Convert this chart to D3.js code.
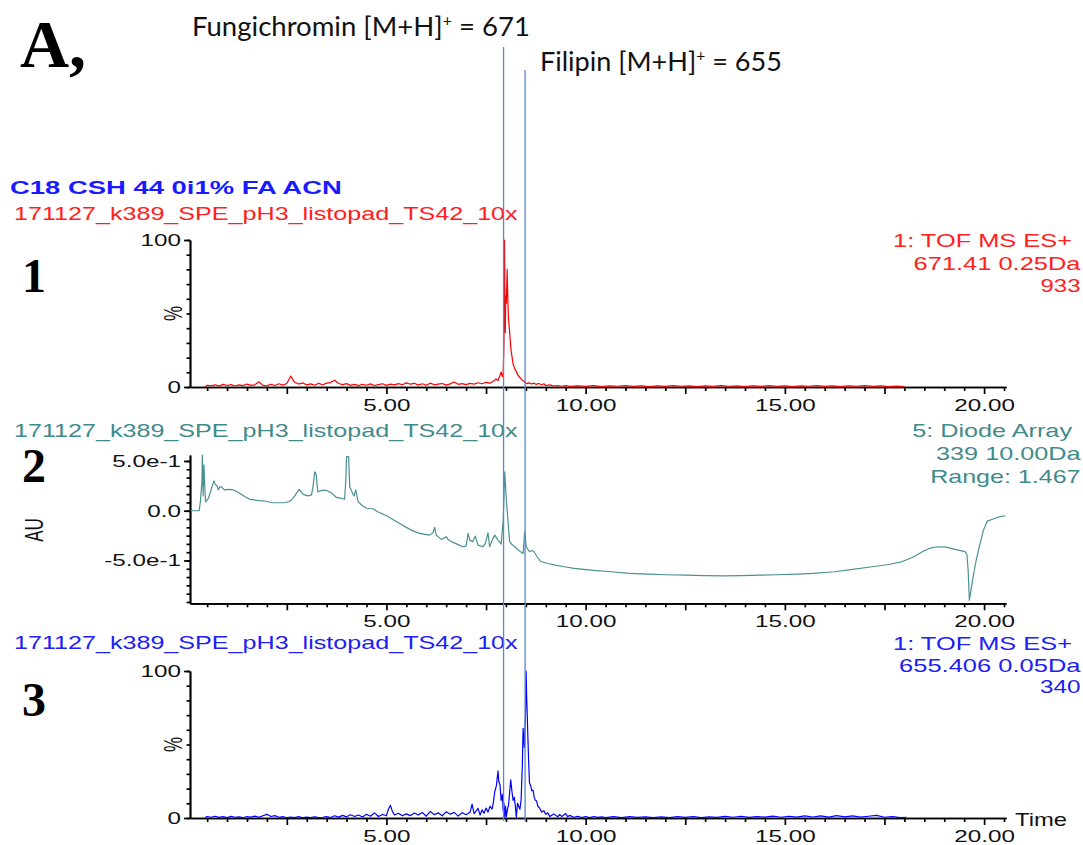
<!DOCTYPE html>
<html><head><meta charset="utf-8">
<script src="https://cdn.jsdelivr.net/npm/d3@7"></script>
<style>html,body{margin:0;padding:0;background:#fff;} svg{display:block;}</style>
</head><body><svg id="chart" width="1083" height="845"></svg>
<script>
// ---------------- DATA ----------------
const runName = "171127_k389_SPE_pH3_listopad_TS42_10x";
const methodName = "C18 CSH 44 0i1% FA ACN";
const panel1Info = ["1: TOF MS ES+", "671.41 0.25Da", "933"];
const panel2Info = ["5: Diode Array", "339 10.00Da", "Range: 1.467"];
const panel3Info = ["1: TOF MS ES+", "655.406 0.05Da", "340"];
const panelNumbers = ["1", "2", "3"];
const annotFungi = {name: "Fungichromin [M+H]", sup: "+", rest: " = 671"};
const annotFilipin = {name: "Filipin [M+H]", sup: "+", rest: " = 655"};
const markerTimes = [7.94, 8.48];           // Fungichromin, Filipin retention (min)
const timeTickLabels = [5, 10, 15, 20];
const pctTickLabels = [0, 100];
const auTicks = [-0.5, 0, 0.5];
const auTickLabels = ["-5.0e-1", "0.0", "5.0e-1"];

// Trace 1: TOF MS ES+ 671.41 (% of 933)
const fungiTrace = [
[0.45,0],[0.5,1.2],[0.6,0.8],[0.7,1.5],[0.8,0.6],[0.9,1.8],[1.0,1.0],[1.1,1.6],[1.2,0.7],[1.3,1.4],
[1.4,0.9],[1.5,2.0],[1.6,1.1],[1.7,1.5],[1.8,3.5],[1.9,1.2],[2.0,0.8],[2.1,1.9],[2.2,1.0],[2.3,2.2],
[2.4,1.3],[2.5,2.4],[2.6,7.5],[2.65,5.0],[2.7,3.2],[2.8,2.0],[2.9,2.8],[3.0,1.4],[3.1,2.1],[3.2,1.2],
[3.3,2.5],[3.4,1.5],[3.5,2.6],[3.6,3.0],[3.7,4.6],[3.8,2.4],[3.9,1.6],[4.0,2.3],[4.1,1.1],[4.2,1.8],
[4.3,0.9],[4.4,1.9],[4.5,1.2],[4.6,2.1],[4.7,1.0],[4.8,1.6],[4.9,2.2],[5.0,1.1],[5.1,2.0],[5.2,1.4],
[5.3,2.3],[5.4,1.5],[5.5,2.8],[5.6,1.9],[5.7,2.5],[5.8,1.3],[5.9,2.2],[6.0,1.2],[6.1,2.6],[6.2,1.5],
[6.3,2.0],[6.4,2.4],[6.5,1.3],[6.6,2.1],[6.7,3.4],[6.8,1.8],[6.9,2.3],[7.0,1.6],[7.1,2.5],[7.2,2.0],
[7.3,2.9],[7.4,2.2],[7.5,3.2],[7.6,2.6],[7.7,4.2],[7.75,5.5],[7.8,4.4],[7.85,8.0],[7.88,10.2],[7.91,7.0],
[7.93,9.0],[7.95,30],[7.965,100],[7.975,55],[7.983,37],[7.995,62],[8.01,57],[8.03,80],[8.045,62],[8.06,48],
[8.09,38],[8.12,27],[8.15,21],[8.18,15.5],[8.22,12.5],[8.26,10.5],[8.3,8.0],[8.34,6.8],[8.39,5.2],[8.44,4.0],
[8.48,3.4],[8.52,2.2],[8.58,2.8],[8.64,2.0],[8.7,2.6],[8.76,1.8],[8.82,2.4],[8.9,1.5],[8.95,2.2],[9.0,1.0],
[9.1,1.4],[9.2,0.6],[9.3,1.0],[9.4,0.5],[9.5,0.9],[9.6,0.4],[9.8,0.8],[10.0,0.4],[10.2,0.9],[10.4,0.3],
[10.6,0.8],[10.8,0.5],[11.0,0.9],[11.2,0.4],[11.4,0.7],[11.6,0.3],[11.8,0.8],[12.0,0.4],[12.2,0.9],[12.4,0.5],
[12.6,0.8],[12.8,0.3],[13.0,0.7],[13.2,0.4],[13.4,0.9],[13.6,0.5],[13.8,0.7],[14.0,0.3],[14.2,0.8],[14.4,0.4],
[14.6,0.9],[14.8,0.5],[15.0,0.7],[15.2,0.3],[15.4,0.8],[15.6,0.5],[15.8,0.9],[16.0,0.4],[16.2,0.7],[16.4,0.3],
[16.6,0.8],[16.8,0.5],[17.0,0.9],[17.2,0.4],[17.4,0.7],[17.6,0.3],[17.8,0.6],[18.0,0.3]
];

// Trace 2: Diode array 339 nm (AU)
const dadTrace = [
[0.08,0.0],[0.30,0.0],[0.33,0.09],[0.37,0.30],[0.38,0.56],[0.40,0.15],[0.42,0.46],[0.44,0.25],[0.46,0.09],[0.53,0.125],
[0.58,0.18],[0.62,0.24],[0.67,0.30],[0.71,0.26],[0.75,0.25],[0.78,0.21],[0.82,0.24],[0.86,0.24],[0.90,0.22],[0.94,0.21],
[1.05,0.215],[1.15,0.21],[1.25,0.19],[1.32,0.175],[1.45,0.14],[1.57,0.115],[1.75,0.105],[1.90,0.10],[2.15,0.08],[2.41,0.08],
[2.55,0.09],[2.62,0.108],[2.70,0.15],[2.74,0.175],[2.81,0.215],[2.86,0.19],[2.91,0.165],[3.03,0.15],[3.12,0.16],[3.16,0.25],
[3.20,0.39],[3.22,0.38],[3.24,0.36],[3.26,0.25],[3.28,0.19],[3.37,0.205],[3.49,0.205],[3.56,0.19],[3.62,0.18],[3.74,0.135],
[3.87,0.125],[3.95,0.115],[3.98,0.30],[4.00,0.545],[4.05,0.545],[4.08,0.24],[4.15,0.175],[4.19,0.15],[4.23,0.21],[4.26,0.15],
[4.29,0.09],[4.40,0.05],[4.50,0.025],[4.66,0.02],[4.78,-0.01],[4.91,-0.033],[5.05,-0.06],[5.16,-0.087],[5.30,-0.12],[5.50,-0.167],
[5.65,-0.20],[5.83,-0.228],[6.08,-0.245],[6.17,-0.22],[6.21,-0.167],[6.25,-0.245],[6.38,-0.288],[6.50,-0.261],[6.55,-0.29],[6.63,-0.31],
[6.80,-0.34],[6.92,-0.362],[7.00,-0.355],[7.05,-0.228],[7.09,-0.295],[7.17,-0.31],[7.23,-0.255],[7.30,-0.345],[7.42,-0.362],[7.48,-0.33],
[7.55,-0.221],[7.59,-0.362],[7.65,-0.30],[7.72,-0.245],[7.80,-0.295],[7.88,-0.335],[7.93,-0.10],[7.97,0.39],[8.01,0.108],[8.05,-0.094],
[8.09,-0.308],[8.15,-0.34],[8.22,-0.362],[8.34,-0.405],[8.43,-0.43],[8.47,-0.21],[8.51,-0.362],[8.59,-0.412],[8.65,-0.40],[8.70,-0.41],
[8.78,-0.46],[8.87,-0.51],[9.05,-0.53],[9.24,-0.546],[9.5,-0.565],[9.71,-0.58],[10.2,-0.60],[10.64,-0.613],[11.1,-0.63],[11.58,-0.637],
[12.0,-0.643],[12.51,-0.647],[13.0,-0.652],[13.45,-0.654],[13.9,-0.652],[14.38,-0.647],[14.8,-0.643],[15.31,-0.637],[15.7,-0.63],[16.25,-0.613],
[16.7,-0.59],[17.19,-0.563],[17.6,-0.54],[17.93,-0.513],[18.2,-0.47],[18.46,-0.41],[18.65,-0.375],[18.82,-0.362],[19.05,-0.365],[19.3,-0.39],
[19.52,-0.41],[19.57,-0.44],[19.60,-0.60],[19.63,-0.90],[19.67,-0.80],[19.71,-0.70],[19.80,-0.50],[19.88,-0.362],[19.98,-0.20],[20.08,-0.104],
[20.21,-0.085],[20.35,-0.065],[20.53,-0.05]
];

// Trace 3: TOF MS ES+ 655.406 (% of 340)
const filipinTrace = [
[0.45,0.3],[0.5,1.0],[0.6,0.5],[0.7,1.2],[0.8,0.4],[0.9,0.9],[1.0,0.3],[1.1,1.1],[1.2,0.5],[1.3,0.8],
[1.4,0.2],[1.5,1.0],[1.6,0.6],[1.7,1.3],[1.8,0.4],[1.9,1.5],[2.0,2.5],[2.1,1.0],[2.2,1.6],[2.3,0.5],
[2.4,0.9],[2.5,0.2],[2.6,0.7],[2.7,0.3],[2.8,0.9],[2.9,0.2],[3.0,0.6],[3.1,0.3],[3.2,0.8],[3.3,0.2],
[3.4,0.5],[3.5,0.9],[3.6,0.3],[3.7,1.5],[3.8,0.6],[3.9,1.8],[4.0,0.8],[4.1,2.2],[4.2,1.0],[4.3,2.0],
[4.4,0.7],[4.5,2.6],[4.6,1.2],[4.7,3.5],[4.8,1.0],[4.9,2.4],[5.0,1.5],[5.05,6.0],[5.1,8.6],[5.15,4.5],
[5.2,2.0],[5.3,3.2],[5.4,1.5],[5.5,2.8],[5.6,1.6],[5.7,3.4],[5.8,2.0],[5.9,3.8],[6.0,1.2],[6.1,4.5],
[6.2,2.2],[6.3,3.5],[6.4,1.5],[6.5,4.2],[6.6,2.5],[6.7,3.8],[6.8,1.3],[6.9,3.6],[7.0,2.2],[7.1,4.0],
[7.15,9.5],[7.2,3.0],[7.3,6.5],[7.35,2.0],[7.4,5.5],[7.45,3.2],[7.5,6.8],[7.55,4.0],[7.6,8.0],[7.65,6.0],
[7.68,10.0],[7.72,18.0],[7.76,22.0],[7.8,32.0],[7.82,25.0],[7.85,22.5],[7.88,12.0],[7.91,16.0],[7.93,5.0],[7.95,10.0],
[7.97,0.5],[7.99,8.0],[8.01,1.0],[8.04,6.0],[8.07,10.0],[8.1,20.0],[8.12,26.0],[8.15,18.0],[8.18,12.0],[8.21,14.0],
[8.24,7.0],[8.26,0.5],[8.29,10.0],[8.32,8.0],[8.35,6.0],[8.38,12.0],[8.41,35.0],[8.43,61.0],[8.46,48.0],[8.49,70.0],
[8.505,100],[8.52,82.0],[8.535,69.0],[8.55,55.0],[8.57,38.0],[8.59,24.0],[8.62,22.0],[8.65,18.5],[8.68,19.0],[8.71,14.0],
[8.74,12.0],[8.77,11.5],[8.8,8.0],[8.85,6.5],[8.9,4.0],[8.95,5.0],[9.0,2.5],[9.05,3.5],[9.1,1.0],[9.2,2.8],
[9.3,0.8],[9.35,2.5],[9.4,1.0],[9.5,3.0],[9.55,0.8],[9.6,1.8],[9.7,0.5],[9.8,1.2],[9.9,0.3],[10.0,1.0],
[10.1,0.3],[10.2,1.0],[10.3,0.4],[10.4,0.8],[10.5,0.2],[10.7,0.9],[10.9,0.3],[11.1,1.0],[11.3,0.4],[11.5,0.7],
[11.7,0.2],[11.9,0.8],[12.1,0.3],[12.3,0.9],[12.5,0.4],[12.7,1.0],[12.9,0.3],[13.1,0.8],[13.3,0.4],[13.5,1.1],
[13.7,0.5],[13.9,1.2],[14.1,0.4],[14.3,1.0],[14.5,0.6],[14.7,1.3],[14.9,0.5],[15.1,1.2],[15.3,0.6],[15.5,1.4],
[15.7,0.7],[15.9,1.5],[16.1,0.6],[16.3,1.6],[16.5,0.8],[16.7,1.4],[16.9,0.6],[17.1,1.2],[17.3,1.8],[17.5,0.5],
[17.7,0.9],[17.9,0.3],[18.05,0.5]
];

// ---------------- RENDER ----------------
const svg = d3.select("#chart");
const SANS = "'Liberation Sans', Arial, Helvetica, sans-serif";
const SERIF = "'Liberation Serif', 'Times New Roman', serif";
const SX = 1.47; // horizontal stretch of the instrument-software text
const RED = "#ff2020", TEAL = "#3f8b8b", BLUE = "#2020f2";

const x = d3.scaleLinear().domain([0.07, 20.55]).range([190, 1006]);
const y1 = d3.scaleLinear().domain([0, 100]).range([387, 240]);
const y2 = d3.scaleLinear().domain([-0.93, 0.56]).range([603.3, 455]);
const y3 = d3.scaleLinear().domain([0, 100]).range([818, 671]);

function label(parent, str, px, py, o) {
  const t = parent.append("text")
    .attr("font-family", o.family || SANS)
    .attr("font-size", o.size || 18)
    .attr("font-weight", o.weight || "normal")
    .attr("fill", o.fill || "#000")
    .attr("text-anchor", o.anchor || "start");
  if (o.build) o.build(t); else t.text(str);
  let sx = o.sx || 1;
  if (o.width) sx = o.width / t.node().getComputedTextLength();
  t.attr("transform", `translate(${px},${py}) scale(${sx},1)`);
  return t;
}

const minorTimes = d3.range(0.5, 20.51, 0.5).filter(v => Math.abs(v / 2.5 - Math.round(v / 2.5)) > 1e-6);
const majorTimes = d3.range(2.5, 20.01, 2.5);

function styleAxis(g) {
  g.attr("color", "#000");
  g.selectAll("path,line").attr("stroke-width", 1.7);
  g.selectAll("text").attr("font-family", SANS).attr("font-size", 16.5).attr("fill", "#111");
}

function xAxis(yPos) {
  const g = svg.append("g").attr("transform", `translate(0,${yPos})`);
  g.append("g").call(d3.axisBottom(x).tickValues(minorTimes).tickSize(4).tickSizeOuter(0).tickFormat(""));
  const m = g.append("g").call(d3.axisBottom(x).tickValues(majorTimes).tickSize(7).tickSizeOuter(0).tickPadding(5)
    .tickFormat(d => timeTickLabels.includes(d) ? d3.format(".2f")(d) : ""));
  styleAxis(g);
  m.selectAll("text").attr("transform", `scale(${SX},1)`);
}

function yAxis(scale, minorVals, majorVals, fmt) {
  const g = svg.append("g").attr("transform", `translate(190,0)`);
  g.append("g").call(d3.axisLeft(scale).tickValues(minorVals).tickSize(3.5).tickSizeOuter(0).tickFormat(""));
  const m = g.append("g").call(d3.axisLeft(scale).tickValues(majorVals).tickSize(6).tickSizeOuter(0).tickPadding(3).tickFormat(fmt));
  styleAxis(g);
  m.selectAll("text").attr("x", -9 / SX).attr("transform", `scale(${SX},1)`);
}

function trace(data, yScale, color) {
  svg.append("path").datum(data)
    .attr("fill", "none").attr("stroke", color).attr("stroke-width", 1.2)
    .attr("stroke-linejoin", "round")
    .attr("d", d3.line().x(d => x(d[0])).y(d => yScale(d[1])));
}

function rotLabel(str, cx, cy) {
  svg.append("text").attr("font-family", SANS).attr("font-size", 17).attr("fill", "#111")
    .attr("text-anchor", "middle").attr("dy", "0.35em")
    .attr("transform", `translate(${cx},${cy}) scale(${SX},1) rotate(-90)`).text(str);
}

// Panel 1
yAxis(y1, d3.range(0, 101, 10), pctTickLabels, d => String(d));
xAxis(387);
trace(fungiTrace, y1, "#ff0000");
rotLabel("%", 173, y1(50));

// Panel 2
yAxis(y2, d3.range(0, 18).map(k => 0.5 - k / 12), auTicks, d => auTickLabels[auTicks.indexOf(d)]);
xAxis(603.3);
trace(dadTrace, y2, "#4a9191");
rotLabel("AU", 34, 530);

// Panel 3
yAxis(y3, d3.range(0, 101, 10), pctTickLabels, d => String(d));
xAxis(818);
trace(filipinTrace, y3, "#0000ff");
rotLabel("%", 173, y3(50));
label(svg, "Time", 1015, 826, {size: 18.6, width: 52, fill: "#111"});

// Headers
label(svg, methodName, 10, 194, {size: 17.5, weight: "bold", fill: "#1a1aff", width: 332});
label(svg, runName, 14, 220, {size: 18, fill: RED, width: 504});
label(svg, panel1Info[0], 1072, 247, {size: 18, fill: RED, anchor: "end", width: 179});
label(svg, panel1Info[1], 1080.5, 270, {size: 18, fill: RED, anchor: "end", width: 167});
label(svg, panel1Info[2], 1080.5, 292, {size: 18, fill: RED, anchor: "end", width: 40});

label(svg, runName, 14, 437, {size: 18, fill: TEAL, width: 504});
label(svg, panel2Info[0], 1072, 437, {size: 18, fill: TEAL, anchor: "end", width: 160});
label(svg, panel2Info[1], 1080.5, 460, {size: 18, fill: TEAL, anchor: "end", width: 144.5});
label(svg, panel2Info[2], 1080.5, 483, {size: 18, fill: TEAL, anchor: "end", width: 150.5});

label(svg, runName, 14, 649, {size: 18, fill: BLUE, width: 504});
label(svg, panel3Info[0], 1072, 650, {size: 18, fill: BLUE, anchor: "end", width: 179});
label(svg, panel3Info[1], 1080.5, 671.5, {size: 18, fill: BLUE, anchor: "end", width: 181.5});
label(svg, panel3Info[2], 1080.5, 693, {size: 18, fill: BLUE, anchor: "end", width: 40.5});

// Panel numbers and figure letter
label(svg, "A,", 20, 67, {size: 68, weight: "bold", family: SERIF});
[292, 482, 716].forEach((by, i) => label(svg, panelNumbers[i], 22, by, {size: 48, weight: "bold", family: SERIF}));

// Marker lines
const markerTops = [47, 70];
markerTimes.forEach((t, i) => {
  svg.append("line").attr("x1", x(t)).attr("x2", x(t)).attr("y1", markerTops[i]).attr("y2", 821)
    .attr("stroke", "#5a87c6").attr("stroke-width", 1.3);
});

// Annotations
function annot(a) {
  return t => {
    t.append("tspan").text(a.name);
    t.append("tspan").attr("dy", -10).attr("font-size", 15).text(a.sup);
    t.append("tspan").attr("dy", 10).text(a.rest);
  };
}
const ANN = "Lato, 'Open Sans', 'Noto Sans', sans-serif";
label(svg, null, 192, 36, {size: 26, family: ANN, fill: "#111", width: 338, build: annot(annotFungi)});
label(svg, null, 540, 71, {size: 26, family: ANN, fill: "#111", width: 242, build: annot(annotFilipin)});
</script></body></html>
